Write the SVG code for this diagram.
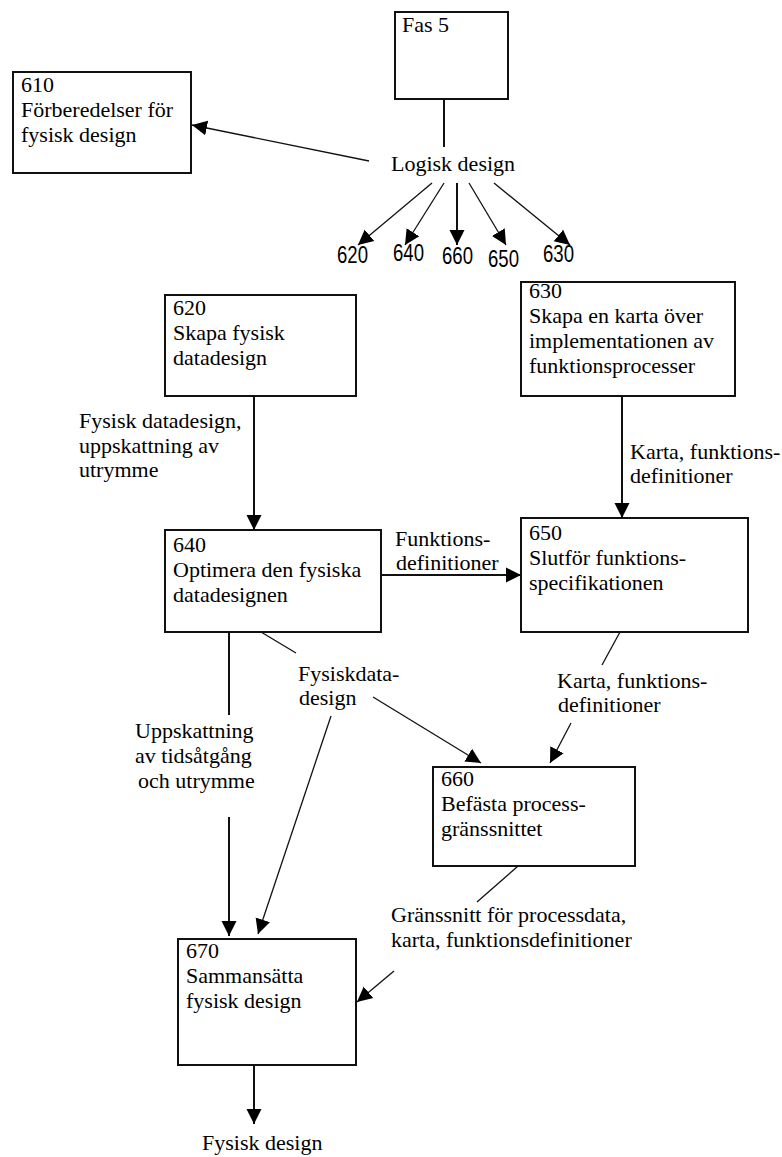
<svg xmlns="http://www.w3.org/2000/svg" width="782" height="1157" viewBox="0 0 782 1157">
  <defs>
    <style>
      .box { fill: #ffffff; stroke: #111111; stroke-width: 2; }
      .t { font-family: "Liberation Serif", "Times New Roman", serif; font-size: 22px; fill: #000000; }
      .num { font-family: "Liberation Sans", Arial, sans-serif; font-size: 23px; fill: #000000; }
      .st { fill: none; stroke: #111111; stroke-width: 2; }
      .dg { fill: none; stroke: #111111; stroke-width: 1.3; }
    </style>
    <marker id="arrow" markerUnits="userSpaceOnUse" markerWidth="16" markerHeight="16" refX="15" refY="8" orient="auto">
      <path d="M0,0.5 L15,8 L0,15.5 z" fill="#000000"/>
    </marker>
  </defs>

  <rect width="782" height="1157" fill="#ffffff"/>

  <!-- process boxes -->
  <g id="n-fas5">
    <rect class="box" x="395" y="12" width="113" height="87"/>
    <text class="t" x="402" y="32">Fas 5</text>
  </g>

  <g id="n-610">
    <rect class="box" x="13" y="72" width="178" height="101"/>
    <text class="t" x="21" y="92">610</text>
    <text class="t" x="21" y="117">Förberedelser för</text>
    <text class="t" x="21" y="142">fysisk design</text>
  </g>

  <g id="n-620">
    <rect class="box" x="165" y="295" width="191" height="101"/>
    <text class="t" x="173" y="315">620</text>
    <text class="t" x="173" y="340">Skapa fysisk</text>
    <text class="t" x="173" y="365">datadesign</text>
  </g>

  <g id="n-630">
    <rect class="box" x="521" y="282" width="214" height="114"/>
    <text class="t" x="529" y="298">630</text>
    <text class="t" x="529" y="323">Skapa en karta över</text>
    <text class="t" x="529" y="348">implementationen av</text>
    <text class="t" x="529" y="373">funktionsprocesser</text>
  </g>

  <g id="n-640">
    <rect class="box" x="165" y="530" width="216" height="102"/>
    <text class="t" x="173" y="552">640</text>
    <text class="t" x="173" y="577">Optimera den fysiska</text>
    <text class="t" x="173" y="602">datadesignen</text>
  </g>

  <g id="n-650">
    <rect class="box" x="521" y="518" width="227" height="114"/>
    <text class="t" x="529" y="540">650</text>
    <text class="t" x="529" y="565">Slutför funktions-</text>
    <text class="t" x="529" y="590">specifikationen</text>
  </g>

  <g id="n-660">
    <rect class="box" x="433" y="767" width="202" height="99"/>
    <text class="t" x="441" y="786">660</text>
    <text class="t" x="441" y="811">Befästa process-</text>
    <text class="t" x="441" y="836">gränssnittet</text>
  </g>

  <g id="n-670">
    <rect class="box" x="178" y="939" width="178" height="126"/>
    <text class="t" x="186" y="958">670</text>
    <text class="t" x="186" y="983">Sammansätta</text>
    <text class="t" x="186" y="1008">fysisk design</text>
  </g>

  <!-- connectors -->
  <g id="connectors">
    <line class="st" x1="444" y1="99" x2="444" y2="147"/>
    <line class="dg" x1="369" y1="161" x2="192" y2="125" marker-end="url(#arrow)"/>
    <line class="dg" x1="432" y1="183" x2="358" y2="245" marker-end="url(#arrow)"/>
    <line class="dg" x1="444" y1="183" x2="405" y2="245" marker-end="url(#arrow)"/>
    <line class="st" x1="457" y1="183" x2="457" y2="245" marker-end="url(#arrow)"/>
    <line class="dg" x1="469" y1="183" x2="506" y2="245" marker-end="url(#arrow)"/>
    <line class="dg" x1="494" y1="183" x2="570" y2="245" marker-end="url(#arrow)"/>

    <line class="st" x1="254" y1="396" x2="254" y2="530" marker-end="url(#arrow)"/>
    <line class="st" x1="622" y1="396" x2="622" y2="518" marker-end="url(#arrow)"/>
    <line class="st" x1="381" y1="575" x2="521" y2="575" marker-end="url(#arrow)"/>

    <line class="dg" x1="261" y1="632" x2="296" y2="653"/>
    <line class="dg" x1="373" y1="697" x2="481" y2="763" marker-end="url(#arrow)"/>
    <line class="dg" x1="331" y1="716" x2="258" y2="934" marker-end="url(#arrow)"/>

    <line class="st" x1="229" y1="632" x2="229" y2="715"/>
    <line class="st" x1="229" y1="817" x2="229" y2="936" marker-end="url(#arrow)"/>

    <line class="dg" x1="620" y1="632" x2="602" y2="665"/>
    <line class="dg" x1="571" y1="723" x2="550" y2="763" marker-end="url(#arrow)"/>

    <line class="dg" x1="518" y1="866" x2="477" y2="902"/>
    <line class="dg" x1="394" y1="971" x2="357" y2="1002" marker-end="url(#arrow)"/>

    <line class="st" x1="254" y1="1065" x2="254" y2="1124" marker-end="url(#arrow)"/>
  </g>

  <!-- flow labels -->
  <g id="labels">
    <text class="t" x="391" y="171">Logisk design</text>

    <text class="num" x="337" y="263" textLength="31" lengthAdjust="spacingAndGlyphs">620</text>
    <text class="num" x="393" y="261" textLength="31" lengthAdjust="spacingAndGlyphs">640</text>
    <text class="num" x="442" y="264" textLength="31" lengthAdjust="spacingAndGlyphs">660</text>
    <text class="num" x="488" y="267" textLength="31" lengthAdjust="spacingAndGlyphs">650</text>
    <text class="num" x="543" y="262" textLength="31" lengthAdjust="spacingAndGlyphs">630</text>

    <text class="t" x="79" y="428">Fysisk datadesign,</text>
    <text class="t" x="79" y="453">uppskattning av</text>
    <text class="t" x="79" y="477">utrymme</text>

    <text class="t" x="630" y="459">Karta, funktions-</text>
    <text class="t" x="630" y="483">definitioner</text>

    <text class="t" x="395" y="546">Funktions-</text>
    <text class="t" x="396" y="570">definitioner</text>

    <text class="t" x="298" y="681">Fysiskdata-</text>
    <text class="t" x="299" y="705">design</text>

    <text class="t" x="557" y="688">Karta, funktions-</text>
    <text class="t" x="558" y="712">definitioner</text>

    <text class="t" x="135" y="738">Uppskattning</text>
    <text class="t" x="135" y="763">av tidsåtgång</text>
    <text class="t" x="138" y="788">och utrymme</text>

    <text class="t" x="391" y="922">Gränssnitt för processdata,</text>
    <text class="t" x="391" y="947">karta, funktionsdefinitioner</text>

    <text class="t" x="202" y="1150">Fysisk design</text>
  </g>
</svg>
